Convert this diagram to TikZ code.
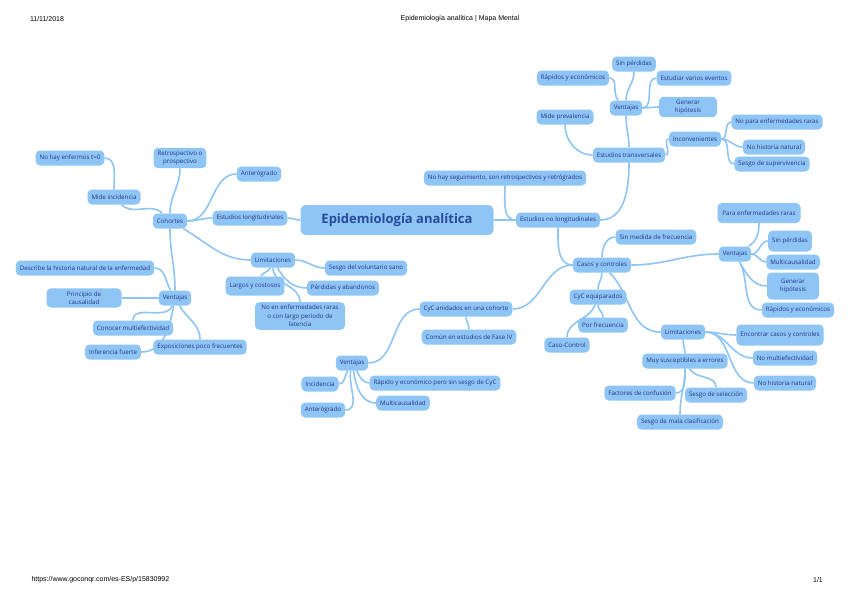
\documentclass[tikz,border=0pt]{standalone}
\usepackage{fontspec}
\setmainfont{Open Sans}
\newfontfamily\headfont{Liberation Sans}
\usetikzlibrary{backgrounds}
\definecolor{mapfill}{RGB}{142,197,245}
\definecolor{maptext}{RGB}{38,52,135}
\definecolor{titletext}{RGB}{40,74,155}

\begin{document}
\begin{tikzpicture}[
  x=1pt, y=1pt,
  every node/.style={font=\fontsize{6.2}{8.4}\selectfont},
  topic/.style={fill=mapfill, text=maptext, rounded corners=4.5pt,
    inner xsep=4pt, inner ysep=3pt, minimum height=15pt, align=center},
  link/.style={draw=mapfill, line width=1.6pt},
  pagetext/.style={font=\headfont\fontsize{7}{8}\selectfont, text=black}
]
\path[use as bounding box] (0,0) rectangle (848,-600);
% page header and footer
\node[pagetext] (fecha) at (47,-19) {11/11/2018};
\node[pagetext] (titulo) at (460,-19) {Epidemiología analítica | Mapa Mental};
\node[pagetext, anchor=west] (url) at (28,-580) {https://www.goconqr.com/es-ES/p/15830992};
\node[pagetext] (pagina) at (818,-580) {1/1};

\node[topic, font=\bfseries\fontsize{13}{15}\selectfont, text=titletext,
  minimum width=193pt, minimum height=30pt, rounded corners=5pt]
  (epi) at (397,-220) {Epidemiología analítica};

% cohortes
\node[topic] (longi) at (250,-218) {Estudios longitudinales};
\node[topic] (coh) at (170,-221) {Cohortes};
\node[topic] (retro) at (180,-158) {Retrospectivo o\\prospectivo};
\node[topic] (ante) at (259,-174) {Anterógrado};
\node[topic] (mideinc) at (114,-197) {Mide incidencia};
\node[topic] (noenf) at (70,-158) {No hay enfermos t=0};
\node[topic] (vent1) at (175,-298) {Ventajas};
\node[topic] (hist) at (85,-268) {Describe la historia natural de la enfermedad};
\node[topic, minimum width=75pt] (princ) at (84,-298) {Principio de\\causalidad};
\node[topic] (multi1) at (133,-328) {Conocer multiefectividad};
\node[topic] (infer) at (113,-352) {Inferencia fuerte};
\node[topic] (expo) at (200,-347) {Exposiciones poco frecuentes};
\node[topic] (lim1) at (273,-260) {Limitaciones};
\node[topic, minimum height=19pt] (largos) at (255,-286) {Largos y costosos};
\node[topic] (sesgo) at (366,-268) {Sesgo del voluntario sano};
\node[topic] (perd) at (343,-288) {Pérdidas y abandonos};
\node[topic, minimum width=90pt] (raras1) at (300,-316)
  {No en enfermedades raras\\o con largo periodo de\\latencia};

% estudios no longitudinales
\node[topic] (nolongi) at (558,-220) {Estudios no longitudinales};
\node[topic] (noseg) at (505,-178) {No hay seguimiento, son retrospectivos y retrógrados};
\node[topic] (transv) at (629,-155) {Estudios transversales};
\node[topic] (mideprev) at (565,-117) {Mide prevalencia};
\node[topic] (vent2) at (626,-108) {Ventajas};
\node[topic] (sinper1) at (634,-64) {Sin pérdidas};
\node[topic] (rapid1) at (573,-78) {Rápidos y económicos};
\node[topic] (varios) at (694,-78) {Estudiar varios eventos};
\node[topic, minimum width=58pt] (hipo1) at (688,-107) {Generar\\hipótesis};
\node[topic] (incon) at (695,-139) {Inconvenientes};
\node[topic] (noraras) at (777,-122) {No para enfermedades raras};
\node[topic] (nohist1) at (774,-147) {No historia natural};
\node[topic] (superv) at (772,-164) {Sesgo de supervivencia};

\node[topic] (cyc) at (602,-265) {Casos y controles};
\node[topic] (frec) at (656,-237) {Sin medida de frecuencia};
\node[topic] (vent3) at (735,-254) {Ventajas};
\node[topic, minimum width=83pt, minimum height=20pt] (rarasv) at (759,-213) {Para enfermedades raras};
\node[topic, minimum height=21pt] (sinper2) at (790,-241) {Sin pérdidas};
\node[topic] (multi3) at (793,-262) {Multicausalidad};
\node[topic, minimum width=52pt, minimum height=27pt] (hipo2) at (793,-286) {Generar\\hipótesis};
\node[topic] (rapid2) at (798,-310) {Rápidos y económicos};
\node[topic] (equip) at (598,-297) {CyC equiparados};
\node[topic] (porfrec) at (603,-325) {Por frecuencia};
\node[topic] (caso) at (567,-345) {Caso-Control};
\node[topic] (anid) at (466,-309) {CyC anidados en una cohorte};
\node[topic] (fase) at (469,-337) {Común en estudios de Fase IV};
\node[topic] (vent4) at (352,-363) {Ventajas};
\node[topic] (incid) at (320,-384) {Incidencia};
\node[topic] (ante2) at (323,-410) {Anterógrado};
\node[topic] (rapido3) at (435,-383) {Rápido y económico pero sin sesgo de CyC};
\node[topic] (multi4) at (403,-403) {Multicausalidad};
\node[topic] (lim3) at (683,-332) {Limitaciones};
\node[topic, minimum height=21pt] (encon) at (780,-335) {Encontrar casos y controles};
\node[topic] (nomulti) at (785,-358) {No multiefectividad};
\node[topic] (nohist2) at (785,-383) {No historia natural};
\node[topic] (suscep) at (685,-361) {Muy susceptibles a errores};
\node[topic] (confus) at (640,-393) {Factores de confusión};
\node[topic] (selec) at (716,-395) {Sesgo de selección};
\node[topic] (malac) at (680,-422) {Sesgo de mala clasificación};

\begin{scope}[on background layer]
\fill[white] (0,0) rectangle (848,-600);
\foreach \a/\b/\o/\i in {
  epi/longi/180/0, epi/nolongi/0/180,
  longi/coh/180/0, coh/retro/90/-90, coh/ante/0/180, coh/mideinc/135/-45,
  mideinc/noenf/90/0, coh/vent1/-90/90, coh/lim1/-30/180,
  vent1/hist/120/0, vent1/princ/180/0, vent1/multi1/-110/90,
  vent1/infer/-100/0, vent1/expo/-60/90,
  lim1/largos/-110/60, lim1/sesgo/0/180, lim1/perd/-60/180, lim1/raras1/-90/90,
  nolongi/noseg/180/-90, nolongi/transv/0/-90, nolongi/cyc/-90/180,
  transv/mideprev/180/-90, transv/vent2/90/-90, transv/incon/0/180,
  vent2/sinper1/90/-90, vent2/rapid1/135/0, vent2/varios/0/180, vent2/hipo1/0/180,
  incon/noraras/0/180, incon/nohist1/0/180, incon/superv/0/180,
  cyc/frec/90/180, cyc/vent3/0/180, cyc/equip/-90/90, cyc/anid/180/0,
  cyc/lim3/-45/180,
  vent3/rarasv/30/-90, vent3/sinper2/0/180, vent3/multi3/0/180,
  vent3/hipo2/-60/180, vent3/rapid2/-60/180,
  equip/porfrec/-90/90, equip/caso/-110/90,
  anid/fase/-90/90, anid/vent4/180/0,
  vent4/incid/-120/0, vent4/ante2/-100/0, vent4/rapido3/-60/180, vent4/multi4/-80/180,
  lim3/encon/0/180, lim3/nomulti/0/180, lim3/nohist2/0/180, lim3/suscep/-90/90,
  suscep/confus/-90/0, suscep/selec/-60/90, suscep/malac/-90/90}
  \draw[link] (\a) to[out=\o,in=\i] (\b);
\end{scope}
\end{tikzpicture}
\end{document}
